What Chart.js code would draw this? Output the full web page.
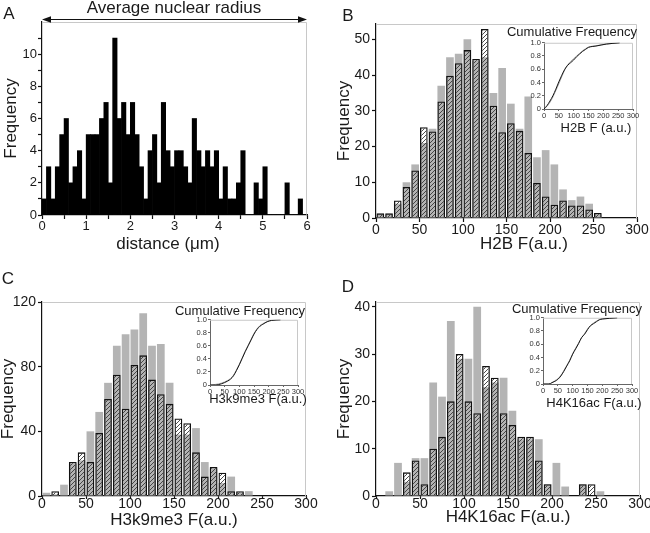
<!DOCTYPE html>
<html>
<head>
<meta charset="utf-8">
<script src="https://cdn.jsdelivr.net/npm/chart.js@4.4.1/dist/chart.umd.min.js"></script>
<style>
  body { margin: 0; width: 650px; height: 533px; position: relative; overflow: hidden; background: #fff;
         font-family: "Liberation Sans", Arial, sans-serif; color: #1a1a1a; }
  canvas { position: absolute; }
  .t { position: absolute; white-space: nowrap; line-height: 1; transform: translate(-50%, -50%); }
  .big { font-size: 17px; }
  .small { font-size: 13px; }
</style>
</head>
<body>
<canvas id="cA" width="325" height="260" style="left:0;top:0"></canvas>
<canvas id="cB" width="325" height="260" style="left:325px;top:0"></canvas>
<canvas id="cC" width="325" height="273" style="left:0;top:260px"></canvas>
<canvas id="cD" width="325" height="273" style="left:325px;top:260px"></canvas>
<canvas id="iB" width="122" height="84" style="left:524px;top:38px"></canvas>
<canvas id="iC" width="122" height="83" style="left:190px;top:315px"></canvas>
<canvas id="iD" width="122" height="84" style="left:523px;top:313px"></canvas>

<div class="t big" style="left:9px;top:13px">A</div>
<div class="t big" style="left:348px;top:15px">B</div>
<div class="t big" style="left:8px;top:278px">C</div>
<div class="t big" style="left:348px;top:286px">D</div>
<div class="t big" style="left:174px;top:7px">Average nuclear radius</div>

<div class="t big" style="left:168px;top:243px">distance (μm)</div>
<div class="t big" style="left:524px;top:243px">H2B F(a.u.)</div>
<div class="t big" style="left:174px;top:519px">H3k9me3 F(a.u.)</div>
<div class="t big" style="left:508px;top:516px">H4K16ac F(a.u.)</div>

<div class="t small" style="left:572px;top:31px">Cumulative Frequency</div>
<div class="t small" style="left:596px;top:127px">H2B F (a.u.)</div>
<div class="t small" style="left:240px;top:310px">Cumulative Frequency</div>
<div class="t small" style="left:258px;top:398px">H3k9me3 F(a.u.)</div>
<div class="t small" style="left:577px;top:308px">Cumulative Frequency</div>
<div class="t small" style="left:594px;top:402px">H4K16ac F(a.u.)</div>

<script>
// ---- data ----
// A: distance histogram, 0.1 µm bins from 0 to 6 µm
const distBin = 0.1;
const distCounts = [1, 3, 1, 3, 5, 6, 2, 3, 4, 1,
                    5, 5, 5, 6, 7, 2, 11, 6, 7, 5,
                    7, 5, 3, 1, 4, 5, 2, 7, 4, 3,
                    4, 4, 3, 2, 6, 4, 3, 4, 3, 4,
                    1, 3, 1, 1, 2, 4, 0, 0, 2, 1,
                    3, 0, 0, 0, 0, 2, 0, 0, 1, 0];
const distTicks = [0, 1, 2, 3, 4, 5, 6];
const distMinor = [0.5, 1.5, 2.5, 3.5, 4.5, 5.5];
const freqTicksA = [0, 2, 4, 6, 8, 10];
const freqMinorA = [1, 3, 5, 7, 9, 11];

// B-D: intensity histograms, 10 a.u. bins from 0 to 300
const fBin = 10;
const h2bGrey  = [1, 1, 4, 10, 15, 21, 25, 37, 45, 46, 50, 44, 45, 35, 42, 32, 25, 34, 17, 19, 15, 8, 5, 6, 4, 1, 0, 0, 0, 0];
const h2bHatch = [1.3, 1.3, 4.9, 8.7, 13.3, 25.4, 24.2, 32.6, 39.8, 43.3, 47, 44.5, 52.9, 31.4, 24, 26.5, 24.4, 18.2, 9.8, 6, 3.7, 4.9, 3.5, 3.5, 2.4, 1.4, 0, 0, 0, 0];
const h3Grey   = [2, 1, 7, 20, 22, 40, 52, 70, 93, 100, 103, 113, 93, 94, 70, 38, 38, 42, 21, 17, 8, 12, 2, 3, 0, 0, 0, 0, 0, 0];
const h3Hatch  = [0, 3, 0, 21, 27, 21, 39, 60, 75, 54, 81, 87, 72, 63, 57, 48, 45, 27, 12, 18, 14.4, 3, 3, 0, 0, 0, 0, 0, 0, 0];
const h4Grey   = [0, 1, 7, 3, 8, 8, 24, 21, 37, 29, 29, 40, 23, 24, 25, 18, 12, 12, 12, 2.5, 7, 2, 0, 2.5, 0, 1, 0, 0, 0, 0];
const h4Hatch  = [0, 0, 0, 5, 7.5, 2.5, 10, 12.5, 20, 30, 20, 17.5, 27.5, 25, 17.5, 15, 12.5, 12.5, 7.5, 2.5, 0, 0, 0, 2.5, 2.5, 0, 0, 0, 0, 0];
const fTicks = [0, 50, 100, 150, 200, 250, 300];
const freqTicksB = [0, 10, 20, 30, 40, 50];
const freqTicksC = [0, 40, 80, 120];
const freqTicksD = [0, 10, 20, 30, 40];

// insets: cumulative frequency
const cumTicksY = [0, 0.2, 0.4, 0.6, 0.8, 1.0];
const cumBX     = [0, 10, 20, 30, 40, 50, 60, 70, 80, 90, 100, 110, 120, 130, 140, 150, 175, 210, 255];
const cumBBlack = [0, 0.05, 0.12, 0.2, 0.3, 0.41, 0.51, 0.6, 0.66, 0.7, 0.74, 0.79, 0.83, 0.87, 0.9, 0.93, 0.95, 0.98, 1.0];
const cumBGrey  = [0, 0.04, 0.1, 0.18, 0.28, 0.38, 0.49, 0.59, 0.67, 0.72, 0.76, 0.8, 0.84, 0.88, 0.91, 0.935, 0.955, 0.98, 1.0];
const cumCX     = [0, 20, 40, 60, 70, 80, 90, 100, 110, 120, 130, 140, 150, 160, 170, 180, 195, 210, 240];
const cumCBlack = [0, 0, 0.02, 0.06, 0.09, 0.14, 0.22, 0.31, 0.41, 0.51, 0.6, 0.69, 0.78, 0.85, 0.9, 0.93, 0.97, 0.99, 1.0];
const cumCGrey  = [0, 0.01, 0.03, 0.07, 0.1, 0.15, 0.23, 0.32, 0.42, 0.52, 0.61, 0.7, 0.79, 0.86, 0.91, 0.94, 0.97, 0.99, 1.0];
const cumDX     = [0, 20, 30, 40, 50, 60, 70, 80, 90, 100, 110, 120, 130, 140, 150, 160, 170, 180, 190, 200, 250];
const cumDBlack = [0, 0, 0.02, 0.04, 0.07, 0.12, 0.19, 0.27, 0.35, 0.45, 0.53, 0.61, 0.7, 0.75, 0.82, 0.88, 0.91, 0.94, 0.97, 0.98, 1.0];
const cumDGrey  = [0, 0, 0.02, 0.05, 0.08, 0.13, 0.2, 0.28, 0.36, 0.46, 0.54, 0.62, 0.7, 0.76, 0.83, 0.88, 0.92, 0.95, 0.97, 0.985, 1.0];

Chart.defaults.font.family = '"Liberation Sans", Arial, sans-serif';
Chart.defaults.color = '#1a1a1a';

const binned = (vals, w) => vals.map((v, i) => ({ x: (i + 0.5) * w, y: v }));
const pts = (xs, ys) => xs.map((x, i) => ({ x: x, y: ys[i] }));

function hatch(ctx) {
  const t = document.createElement('canvas');
  t.width = 4; t.height = 4;
  const g = t.getContext('2d');
  g.strokeStyle = '#3a3a3a';
  g.lineWidth = 0.9;
  g.beginPath();
  g.moveTo(-1, 5); g.lineTo(5, -1);
  g.moveTo(-1, 1); g.lineTo(1, -1);
  g.moveTo(3, 5); g.lineTo(5, 3);
  g.stroke();
  return ctx.createPattern(t, 'repeat');
}

// light grey top and right edges of the plot box
const frame = {
  id: 'frame',
  beforeDatasetsDraw(chart) {
    const { ctx, chartArea: a } = chart;
    ctx.save();
    ctx.strokeStyle = '#c8c8c8';
    ctx.lineWidth = 1;
    ctx.beginPath();
    ctx.moveTo(a.left, a.top + 0.5);
    ctx.lineTo(a.right - 0.5, a.top + 0.5);
    ctx.lineTo(a.right - 0.5, a.bottom);
    ctx.stroke();
    ctx.restore();
  }
};

// double arrow over panel A
const arrow = {
  id: 'arrow',
  afterDraw(chart) {
    const { ctx, chartArea: a } = chart;
    const y = a.top - 2.5;
    ctx.save();
    ctx.strokeStyle = '#111';
    ctx.fillStyle = '#111';
    ctx.lineWidth = 1.2;
    ctx.beginPath();
    ctx.moveTo(a.left + 4, y); ctx.lineTo(a.right - 4, y);
    ctx.stroke();
    ctx.beginPath();
    ctx.moveTo(a.left, y); ctx.lineTo(a.left + 9, y - 3.2); ctx.lineTo(a.left + 9, y + 3.2); ctx.closePath();
    ctx.moveTo(a.right, y); ctx.lineTo(a.right - 9, y - 3.2); ctx.lineTo(a.right - 9, y + 3.2); ctx.closePath();
    ctx.fill();
    ctx.restore();
  }
};

function axis(o) {
  const all = (o.minor ? o.ticks.concat(o.minor) : o.ticks).slice().sort((a, b) => a - b);
  return {
    type: 'linear', min: o.min, max: o.max, offset: false,
    afterBuildTicks: s => { s.ticks = all.map(v => ({ value: v })); },
    afterFit: s => { if (s.isHorizontal()) s.height = o.size; else s.width = o.size; },
    border: { display: true, color: o.color || '#111', width: o.lw || 1.2 },
    grid: { drawOnChartArea: false, drawTicks: true, offset: false,
            tickLength: o.tl || 4, tickColor: o.color || '#111', tickWidth: o.lw || 1.2 },
    ticks: { autoSkip: false, maxRotation: 0, padding: o.pad, color: o.tc || '#1a1a1a',
             font: { size: o.fs, lineHeight: 1 },
             callback: v => o.ticks.includes(v) ? (o.fmt ? o.fmt(v) : v) : '' },
    title: o.title ? { display: true, text: o.title, color: '#1a1a1a', font: { size: 17, lineHeight: 1 }, padding: o.tp }
                   : { display: false }
  };
}

function hist(id, o) {
  const ctx = document.getElementById(id).getContext('2d');
  const ds = [];
  if (o.hatch) {
    ds.push({ data: binned(o.hatch, o.bin), backgroundColor: hatch(ctx), borderColor: '#111', borderWidth: 1.3,
              barPercentage: 0.88, categoryPercentage: 1, grouped: false, order: 1 });
  }
  ds.push({ data: binned(o.grey, o.bin), backgroundColor: o.fill, borderWidth: 0,
            barPercentage: o.bp, categoryPercentage: 1, grouped: false, order: 2 });
  return new Chart(ctx, {
    type: 'bar',
    data: { datasets: ds },
    options: {
      responsive: false, animation: false,
      layout: { padding: o.padding },
      plugins: { legend: { display: false }, tooltip: { enabled: false } },
      scales: { x: axis(o.x), y: axis(o.y) }
    },
    plugins: [frame].concat(o.extra || [])
  });
}

function cdf(id, o) {
  const ctx = document.getElementById(id).getContext('2d');
  return new Chart(ctx, {
    type: 'line',
    data: { datasets: [
      { data: pts(o.xs, o.black), borderColor: '#151515', borderWidth: 1, pointRadius: 0, cubicInterpolationMode: 'monotone', order: 1 },
      { data: pts(o.xs, o.grey), borderColor: '#a8a8a8', borderWidth: 1, pointRadius: 0, cubicInterpolationMode: 'monotone', order: 2 }
    ] },
    options: {
      responsive: false, animation: false,
      layout: { padding: o.padding },
      plugins: { legend: { display: false }, tooltip: { enabled: false } },
      scales: {
        x: axis({ min: 0, max: 300, ticks: fTicks, size: 13, fs: 7.5, pad: 1, tl: 2, lw: 1, color: '#666', tc: '#333' }),
        y: axis({ min: 0, max: 1, ticks: cumTicksY, size: 20, fs: 7.5, pad: 1, tl: 2, lw: 1, color: '#666', tc: '#333',
                  fmt: v => v === 0 ? '0' : v.toFixed(1) })
      }
    },
    plugins: [frame]
  });
}

// A
hist('cA', {
  grey: distCounts, bin: distBin, fill: '#000', bp: 1,
  padding: { top: 22, right: 18, left: 0, bottom: 0 },
  x: { min: 0, max: 6, ticks: distTicks, minor: distMinor, size: 45, fs: 13, pad: 1 },
  y: { min: 0, max: 12, ticks: freqTicksA, minor: freqMinorA, size: 42, fs: 13, pad: 1, title: 'Frequency', tp: { top: 3 } },
  extra: [arrow]
});

// B
hist('cB', {
  grey: h2bGrey, hatch: h2bHatch, bin: fBin, fill: '#b4b4b4', bp: 0.88,
  padding: { top: 24, right: 13, left: 0, bottom: 0 },
  x: { min: 0, max: 300, ticks: fTicks, size: 42, fs: 14, pad: 1 },
  y: { min: 0, max: 54.3, ticks: freqTicksB, size: 51, fs: 14, pad: 2, title: 'Frequency', tp: { top: 11 } }
});

// C
hist('cC', {
  grey: h3Grey, hatch: h3Hatch, bin: fBin, fill: '#b4b4b4', bp: 0.88,
  padding: { top: 42, right: 19, left: 0, bottom: 0 },
  x: { min: 0, max: 300, ticks: fTicks, size: 37, fs: 14, pad: -2, tl: 3 },
  y: { min: 0, max: 120, ticks: freqTicksC, size: 42, fs: 14, pad: 2, title: 'Frequency', tp: { top: 0 } }
});

// D
hist('cD', {
  grey: h4Grey, hatch: h4Hatch, bin: fBin, fill: '#b4b4b4', bp: 0.88,
  padding: { top: 42, right: 10, left: 0, bottom: 0 },
  x: { min: 0, max: 300, ticks: fTicks, size: 37, fs: 14, pad: -2, tl: 3 },
  y: { min: 0, max: 41, ticks: freqTicksD, size: 51, fs: 14, pad: 2, title: 'Frequency', tp: { top: 11 } }
});

// insets
cdf('iB', { xs: cumBX, black: cumBBlack, grey: cumBGrey, padding: { top: 4, right: 13, left: 0, bottom: 0 } });
cdf('iC', { xs: cumCX, black: cumCBlack, grey: cumCGrey, padding: { top: 4, right: 14, left: 0, bottom: 0 } });
cdf('iD', { xs: cumDX, black: cumDBlack, grey: cumDGrey, padding: { top: 4, right: 13, left: 0, bottom: 0 } });
</script>
</body>
</html>
